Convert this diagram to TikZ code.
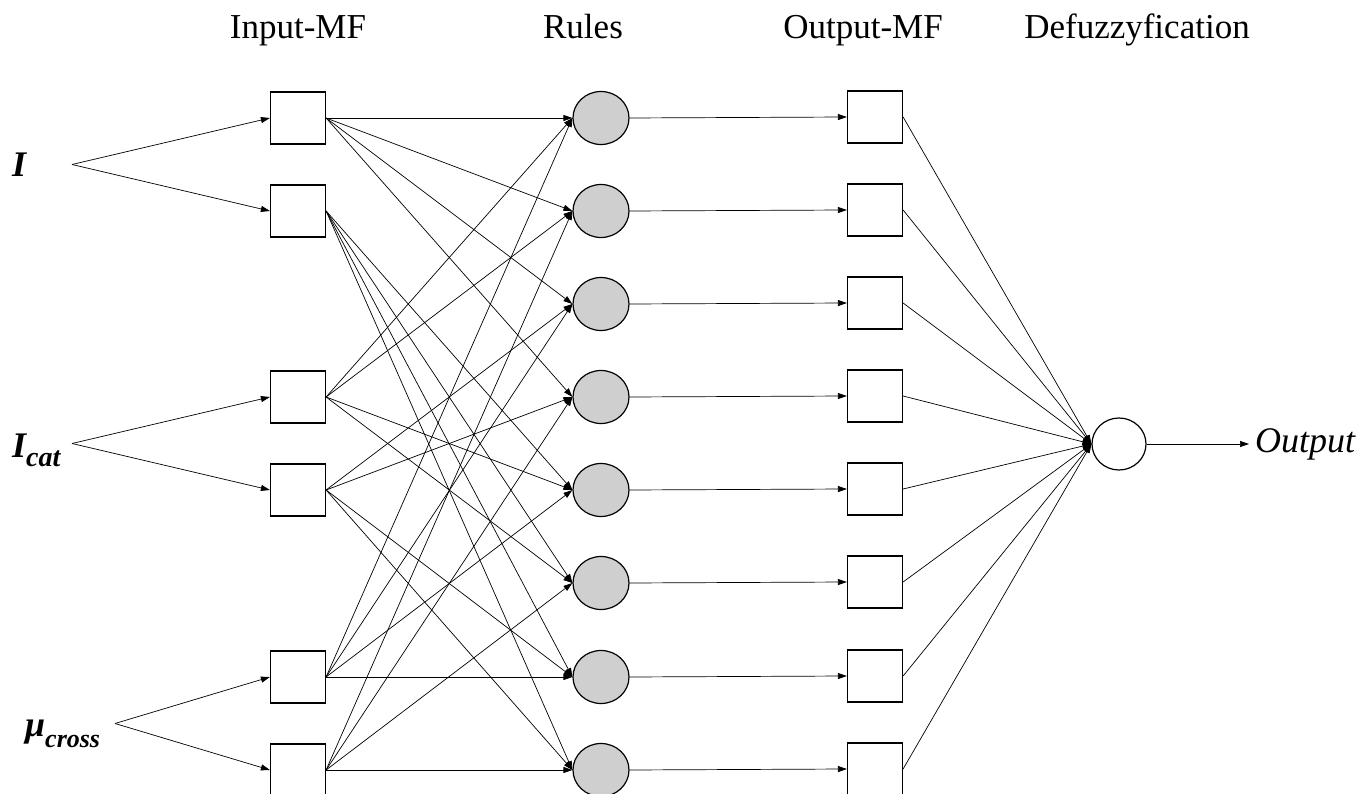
\documentclass[tikz,border=0pt]{standalone}
\usepackage{fontspec}
\setmainfont{Liberation Serif}
\usetikzlibrary{arrows.meta,shapes.geometric}
\definecolor{rulegray}{RGB}{208,207,208}
\begin{document}
\begin{tikzpicture}[x=1pt,y=-1pt,
  mfbox/.style={draw,line width=1.2pt,minimum width=55pt,minimum height=52pt,inner sep=0pt,fill=white},
  rulenode/.style={ellipse,draw,line width=1.2pt,fill=rulegray,minimum width=56pt,minimum height=53pt,inner sep=0pt},
  defnode/.style={ellipse,draw,line width=1.2pt,fill=white,minimum width=54pt,minimum height=52pt,inner sep=0pt},
  conn/.style={line width=0.7pt,-{Triangle[length=9pt,width=6pt]}},
  header/.style={font=\fontsize{35}{40}\selectfont,anchor=base,inner sep=0pt},
  invar/.style={font=\fontsize{36}{40}\selectfont\bfseries\itshape,anchor=base west,inner sep=0pt}]
\useasboundingbox (0,0) rectangle (1361,794);
\clip (0,0) rectangle (1361,794);

% headers
\node[header] (hin) at (298,39) {Input-MF};
\node[header] (hru) at (583,39) {Rules};
\node[header] (hout) at (863,39) {Output-MF};
\node[header] (hdef) at (1137,39) {Defuzzyfication};

% input variables
\node[invar] (lI) at (12,177) {I};
\node[invar] (lC) at (12,457) {I\raisebox{-9pt}{\fontsize{28}{30}\selectfont cat}};
\node[invar] (lM) at (25,736) {μ\raisebox{-11pt}{\fontsize{26}{30}\selectfont cross}};
\coordinate (sI) at (72,164.5);
\coordinate (sC) at (72,443.5);
\coordinate (sM) at (115,723.5);

% input MF boxes
\node[mfbox] (i1) at (298,118) {};
\node[mfbox] (i2) at (298,211) {};
\node[mfbox] (c1) at (298,397) {};
\node[mfbox] (c2) at (298,490) {};
\node[mfbox] (m1) at (298,677) {};
\node[mfbox] (m2) at (298,770) {};

% rules
\foreach \k/\yy in {1/118,2/211,3/304,4/397,5/490,6/583,7/677,8/770}{
  \node[rulenode] (r\k) at (601,\yy) {};
  \node[mfbox] (o\k) at (875,\yy-1) {};
}

% defuzzification
\node[defnode] (d) at (1119,444) {};
\node[font=\fontsize{36}{40}\selectfont\itshape,anchor=west,inner sep=0pt] (out) at (1255,444) {Output};

% input arrows
\draw[conn] (sI) -- (i1.west);
\draw[conn] (sI) -- (i2.west);
\draw[conn] (sC) -- (c1.west);
\draw[conn] (sC) -- (c2.west);
\draw[conn] (sM) -- (m1.west);
\draw[conn] (sM) -- (m2.west);

% MF -> rules
\foreach \r in {1,2,3,4}{\draw[conn] (i1.east) -- (r\r.west);}
\foreach \r in {5,6,7,8}{\draw[conn] (i2.east) -- (r\r.west);}
\foreach \r in {1,2,5,6}{\draw[conn] (c1.east) -- (r\r.west);}
\foreach \r in {3,4,7,8}{\draw[conn] (c2.east) -- (r\r.west);}
\foreach \r in {1,3,5,7}{\draw[conn] (m1.east) -- (r\r.west);}
\foreach \r in {2,4,6,8}{\draw[conn] (m2.east) -- (r\r.west);}

% rules -> output MF -> defuzz
\foreach \k in {1,...,8}{
  \draw[conn] (r\k.east) -- (o\k.west);
  \draw[conn] (o\k.east) -- (d.west);
}
\draw[conn] (d.east) -- ([xshift=-6pt]out.west);
\end{tikzpicture}
\end{document}
